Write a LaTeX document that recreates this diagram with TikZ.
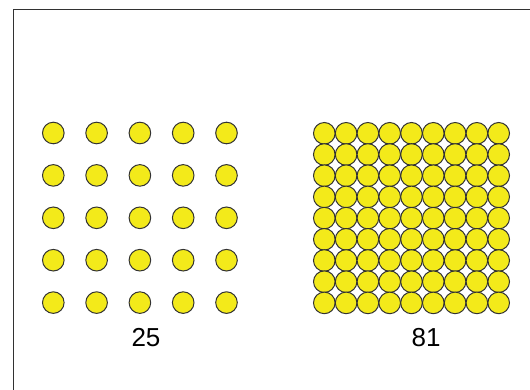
\documentclass[tikz,border=0pt]{standalone}
\usepackage{fontspec}
\setmainfont{Liberation Sans}
\usetikzlibrary{positioning}
\definecolor{bead}{RGB}{243,234,26}
\definecolor{edge}{RGB}{50,50,50}

\begin{document}
\begin{tikzpicture}[x=1pt, y=-1pt,
  every node/.style={font=\fontsize{26}{30}\selectfont},
  dot/.style={circle, draw=edge, fill=bead, line width=1pt,
              minimum size=21.6pt, inner sep=0pt},
  count/.style={inner sep=0pt, anchor=center}
]
  \useasboundingbox (0,0) rectangle (530,390);
  % frame
  \draw[edge, line width=1.6pt] (13.5,390) -- (13.5,9.5) -- (530,9.5);

  % 5 x 5 spread out
  \foreach \i in {1,...,5}
    \foreach \j in {1,...,5}
      \node[dot] (s-\i-\j) at ({53.3+43.3*(\i-1)}, {133+42.4*(\j-1)}) {};

  % 9 x 9 packed
  \foreach \i in {1,...,9}
    \foreach \j in {1,...,9}
      \node[dot] (p-\i-\j) at ({324.3+21.8*(\i-1)}, {133.3+21.2*(\j-1)}) {};

  \node[count] (small) at (146,338) {25};
  \node[count] (big)   at (426,338) {81};
\end{tikzpicture}
\end{document}
